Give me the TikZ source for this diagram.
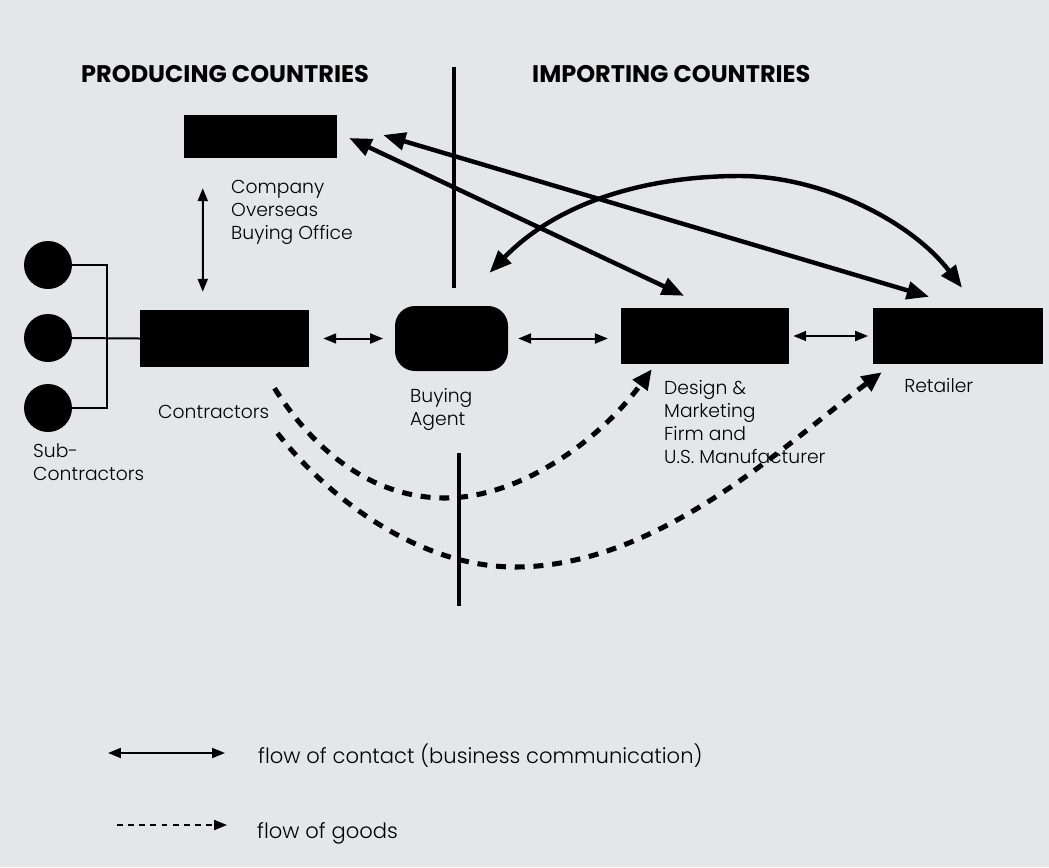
\documentclass[tikz,border=0pt]{standalone}
\usepackage{fontspec}
\IfFontExistsTF{Poppins Light}{\setmainfont{Poppins Light}[BoldFont={Poppins Bold}]}{\setmainfont{Poppins}}
\usetikzlibrary{arrows.meta, calc, positioning}

\definecolor{panel}{HTML}{E5E6E8}

\tikzset{
    firm/.style={fill=black, inner sep=0pt},
    lbl/.style={font=\fontsize{16}{19.6}\selectfont, align=left, inner sep=0pt},
    link/.style={line width=1.7pt},
    contact/.style={line width=1.7pt, {Triangle[length=11pt,width=8.5pt]}-{Triangle[length=11pt,width=8.5pt]}},
    reach/.style={line width=3.8pt, {Triangle[length=19pt,width=15pt]}-{Triangle[length=19pt,width=15pt]}},
    goods/.style={line width=4.3pt, dash pattern=on 8.5pt off 7.5pt, -{Triangle[length=17pt,width=15pt]}},
}

\begin{document}
\begin{tikzpicture}[x=0.03cm, y=-0.03cm]
    % background panel
    \fill[panel] (0,0) rectangle (1049,867);
    \useasboundingbox (0,0) rectangle (1049,867);

    % headings and border lines
    \node[font=\bfseries\fontsize{20.5}{24}\selectfont, anchor=base west, inner sep=0pt] (prod) at (81,82) {PRODUCING COUNTRIES};
    \node[font=\bfseries\fontsize{20.5}{24}\selectfont, anchor=base west, inner sep=0pt] (imp) at (532,82) {IMPORTING COUNTRIES};
    \draw[line width=3.4pt] (454,67) -- (454,288);
    \draw[line width=3.4pt] (459,453) -- (459,606);

    % the firms
    \node[firm, minimum width=4.59cm, minimum height=1.29cm] (office) at (260.5,136.5) {};
    \node[firm, minimum width=5.07cm, minimum height=1.71cm] (contr) at (224.5,338.5) {};
    \node[firm, minimum width=3.39cm, minimum height=1.95cm, rounded corners=0.6cm] (agent) at (451.5,338.5) {};
    \node[firm, minimum width=5.04cm, minimum height=1.68cm] (design) at (705,336) {};
    \node[firm, minimum width=5.1cm, minimum height=1.68cm] (retail) at (958,336) {};
    \foreach \i/\y in {1/265, 2/338, 3/408}
        \node[firm, circle, minimum size=1.44cm] (sub\i) at (48,\y) {};

    % labels
    \node[lbl, anchor=north west] (officetxt) at (231,180) {Company\\Overseas\\Buying Office};
    \node[lbl, anchor=north west] (contrtxt) at (158,405) {Contractors};
    \node[lbl, anchor=north west] (subtxt) at (33,443) {Sub-\\Contractors};
    \node[lbl, anchor=north west] (agenttxt) at (410,388) {Buying\\Agent};
    \node[lbl, anchor=north west] (designtxt) at (664,380) {Design \&\\Marketing\\Firm and\\U.S. Manufacturer};
    \node[lbl, anchor=north west] (retailtxt) at (904,378) {Retailer};

    % sub-contractors
    \coordinate (bus) at (107,338);
    \draw[link] (sub1.east) -| (bus) |- (sub3.east);
    \draw[link] (sub2.east) -- (contr.west);

    % contact between neighbours
    \draw[contact] ($(office.south west)+(19,30)$) -- ($(contr.north west)+(63,-18)$);
    \draw[contact, shorten <=12pt, shorten >=10pt] (contr.east) -- (agent.west);
    \draw[contact, shorten <=8.5pt, shorten >=11pt] (agent.east) -- (agent.east -| design.west);
    \draw[contact, shorten <=3.5pt, shorten >=4pt] (design.east) -- (retail.west);

    % contact over the border
    \draw[reach] ($(office.east)+(12,1.5)$) -- ($(design.north)+(-21,-12)$);
    \draw[reach] ($(office.east)+(46,-1.5)$) -- ($(retail.north)+(-29,-11)$);
    \draw[reach] ($(agent.north)+(38,-33)$) .. controls (560,200) and (650,176) .. (740,176)
        .. controls (820,176) and (910,220) .. ($(retail.north)+(4,-20)$);

    % goods
    \draw[goods] ($(contr.south)+(50,21)$) .. controls (320,460) and (380,498) .. (445,498)
        .. controls (520,498) and (600,440) .. ($(design.south west)+(31,5)$);
    \draw[goods] ($(contr.south)+(53,66)$) .. controls (330,500) and (420,567) .. (515,567)
        .. controls (660,567) and (790,440) .. ($(retail.south west)+(9,8)$);

    % key
    \coordinate (k1) at (108,753);
    \coordinate (k2) at (225,753);
    \coordinate (k3) at (117,825);
    \coordinate (k4) at (227,825);
    \draw[contact] (k1) -- (k2);
    \draw[line width=1.7pt, dash pattern=on 5pt off 4.5pt, -{Triangle[length=11pt,width=8.5pt]}] (k3) -- (k4);
    \node[font=\fontsize{18}{22}\selectfont, anchor=base west, inner sep=0pt] (keya) at (258,763) {flow of contact (business communication)};
    \node[font=\fontsize{18}{22}\selectfont, anchor=base west, inner sep=0pt] (keyb) at (257,838) {flow of goods};
\end{tikzpicture}
\end{document}
